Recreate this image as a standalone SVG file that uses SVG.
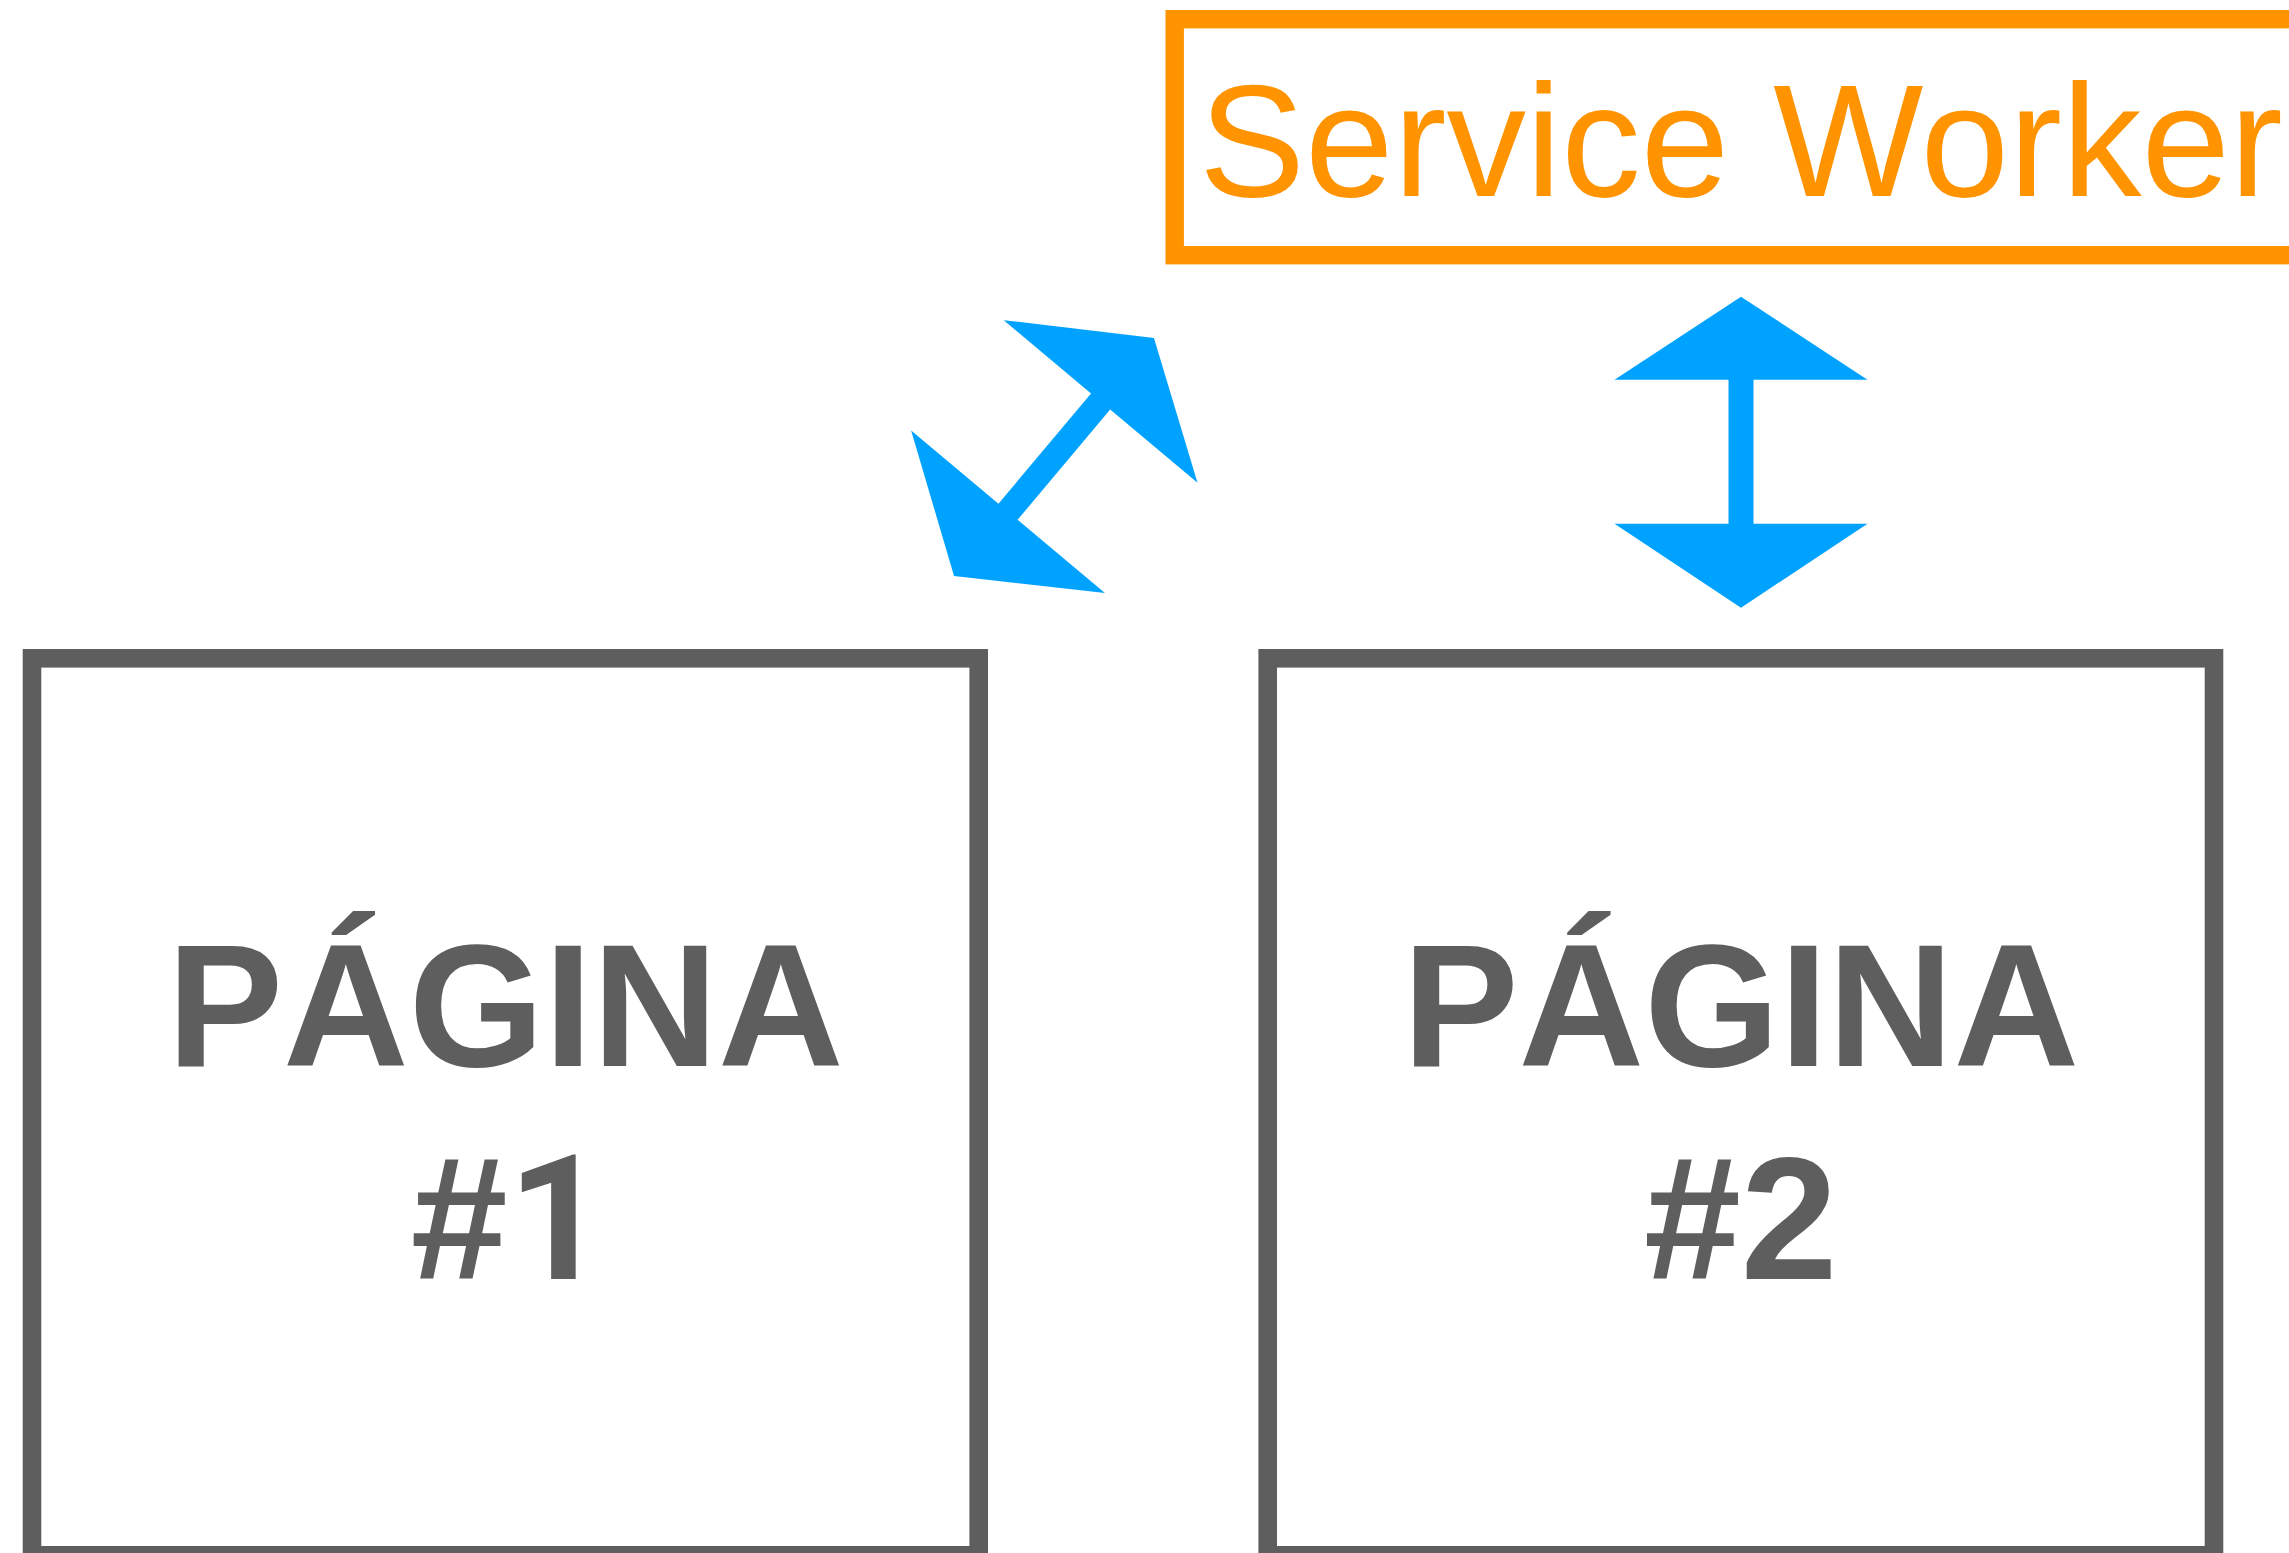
<svg xmlns="http://www.w3.org/2000/svg" width="2289" height="1553" viewBox="0 0 2289 1553">
  <style>
    .page { fill: none; stroke: #5E5E5E; stroke-width: 18.6; }
    .sw { fill: none; stroke: #FF9300; stroke-width: 18.4; }
    .pagetext { font-family: "Liberation Sans", Arial, sans-serif; font-weight: bold; font-size: 174px; fill: #5E5E5E; text-anchor: middle; }
    .digit { font-family: Roboto, "Liberation Sans", sans-serif; }
    .swtext { font-family: "Liberation Sans", Arial, sans-serif; font-size: 159px; fill: #FF9300; }
    .arrow { fill: #00A2FF; }
  </style>
  <defs>
    <polygon id="dbl" points="0,-155.5 126.5,-72.5 12.5,-72.5 12.5,71.5 126.5,71.5 0,155.5 -126.5,71.5 -12.5,71.5 -12.5,-72.5 -126.5,-72.5"/>
  </defs>
  <rect width="2289" height="1553" fill="#FFFFFF"/>

  <g id="service-worker">
    <rect class="sw" x="1174.7" y="19.2" width="1300" height="236"/>
    <text class="swtext" x="1199" y="196">Service Worker</text>
  </g>

  <g id="pagina-1">
    <rect class="page" x="32" y="658.3" width="946.7" height="897"/>
    <text class="pagetext" x="505.3" y="1066">PÁGINA</text>
    <text class="pagetext" x="509" y="1279">#<tspan class="digit">1</tspan></text>
  </g>

  <g id="pagina-2">
    <rect class="page" x="1267.7" y="658.3" width="946.3" height="897"/>
    <text class="pagetext" x="1740.8" y="1066">PÁGINA</text>
    <text class="pagetext" x="1740.8" y="1279">#2</text>
  </g>

  <g id="connectors">
    <use href="#dbl" class="arrow" transform="translate(1054,457) rotate(40)"/>
    <use href="#dbl" class="arrow" transform="translate(1741,452.2)"/>
  </g>
</svg>
